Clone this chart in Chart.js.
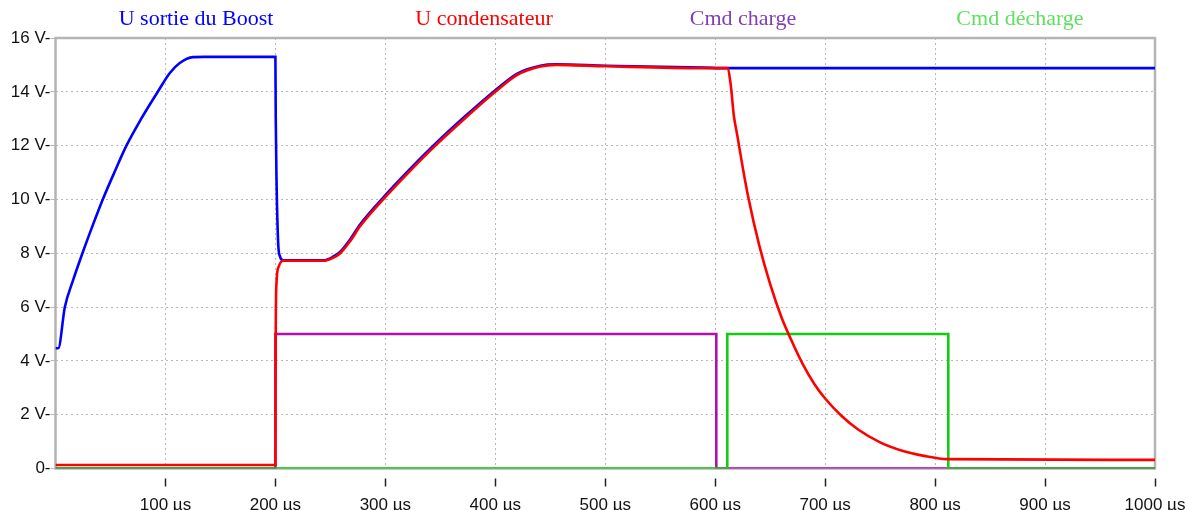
<!DOCTYPE html>
<html>
<head>
<meta charset="utf-8">
<script src="https://cdn.jsdelivr.net/npm/chart.js@4/dist/chart.umd.min.js"></script>
<style>
  body { margin: 0; background: #fff; }
  #wrap { position: relative; width: 1193px; height: 510px; }
  .ttl { position: absolute; top: 5px; font: 22px "Liberation Serif", serif; transform: translateX(-50%); white-space: nowrap; }
</style>
</head>
<body>
<div id="wrap">
  <canvas id="chart"></canvas>
  <span class="ttl" style="left:196px;color:#0000ff">U sortie du Boost</span>
  <span class="ttl" style="left:484px;color:#ff0000">U condensateur</span>
  <span class="ttl" style="left:743px;color:#7f3fb8">Cmd charge</span>
  <span class="ttl" style="left:1020px;color:#5fe05f">Cmd décharge</span>
</div>
<script>
// time in µs, values in V
var boostT = [0, 2.5, 8.5, 16, 24.5, 33.5, 43, 53.5, 64.5, 78, 93, 104, 113, 125, 135, 200, 200.3, 201, 202.5, 204, 207,
  244, 252, 259, 268, 277, 298, 321, 345.5, 372, 400, 420, 441, 455, 500, 589, 611, 1000];
var boostV = [4.47, 4.47, 6.0, 7.0, 8.0, 9.0, 10.0, 11.0, 12.0, 13.0, 14.0, 14.7, 15.07, 15.29, 15.3, 15.3, 13.1, 10.8, 8.4, 7.9, 7.74,
  7.74, 7.86, 8.06, 8.52, 9.07, 10.07, 11.07, 12.07, 13.07, 14.06, 14.68, 14.97, 15.02, 14.97, 14.9, 14.88, 14.88];

var condT = [0, 200, 200.3, 201, 203, 207, 244, 252, 259, 268, 277, 298, 321, 345.5, 372, 400, 420, 441, 455, 500, 589, 611,
  614, 617, 620, 625, 630, 640, 650, 660, 670, 680, 690, 700, 715, 730, 750, 770, 790, 811, 1000];
var condV = [0.13, 0.13, 5.0, 6.9, 7.5, 7.72, 7.72, 7.82, 8.0, 8.45, 9.0, 10.0, 11.0, 12.0, 13.0, 14.0, 14.63, 14.94, 15.0, 14.95, 14.88, 14.88,
  14.3, 13.1, 12.4, 11.2, 10.1, 8.3, 6.85, 5.65, 4.7, 3.85, 3.15, 2.6, 1.95, 1.45, 0.97, 0.66, 0.47, 0.35, 0.32];

var chargeT = [0, 200, 200, 601, 601, 1000];
var chargeV = [0, 0, 5, 5, 0, 0];

var dechargeT = [0, 611, 611, 812, 812, 1000];
var dechargeV = [0, 0, 5, 5, 0, 0];

function pts(t, v) {
  return t.map(function (x, i) { return { x: x, y: v[i] }; });
}

// grey box round the plot + small tick marks below the time axis
var frame = {
  id: 'frame',
  beforeDatasetsDraw: function (chart) {
    var a = chart.chartArea, ctx = chart.ctx;
    ctx.save();
    ctx.strokeStyle = '#b4b4b4';
    ctx.lineWidth = 2.5;
    ctx.strokeRect(a.left, a.top, a.right - a.left, a.bottom - a.top);
    var xs = chart.scales.x;
    ctx.strokeStyle = '#222';
    ctx.lineWidth = 1.5;
    xs.ticks.forEach(function (t) {
      if (t.value === 0) return;
      var px = Math.round(xs.getPixelForValue(t.value)) + 0.5;
      ctx.beginPath();
      ctx.moveTo(px, a.bottom + 10);
      ctx.lineTo(px, a.bottom + 18);
      ctx.stroke();
    });
    ctx.restore();
  }
};

new Chart(document.getElementById('chart'), {
  type: 'line',
  data: {
    datasets: [
      { label: 'U condensateur', data: pts(condT, condV), borderColor: '#ff0000', borderWidth: 2.6, cubicInterpolationMode: 'monotone' },
      { label: 'U sortie du Boost', data: pts(boostT, boostV), borderColor: '#0000ff', borderWidth: 2.6, cubicInterpolationMode: 'monotone' },
      { label: 'Cmd décharge', data: pts(dechargeT, dechargeV), borderColor: '#11cc11', borderWidth: 2.6, tension: 0 },
      { label: 'Cmd charge', data: pts(chargeT, chargeV), borderColor: '#b010b0', borderWidth: 2.6, tension: 0 }
    ]
  },
  options: {
    responsive: true,
    maintainAspectRatio: false,
    animation: false,
    elements: { point: { radius: 0 } },
    layout: { padding: { top: 38, right: 38, left: 0, bottom: 0 } },
    plugins: { legend: { display: false }, tooltip: { enabled: false } },
    scales: {
      x: {
        type: 'linear', min: 0, max: 1000,
        afterFit: function (s) { s.height = 41.5; s.paddingLeft = 0; s.paddingRight = 0; },
        ticks: {
          stepSize: 100, maxRotation: 0, padding: 27, color: '#111',
          font: { family: 'Liberation Sans', size: 17 },
          callback: function (v) { return v === 0 ? '' : v + ' µs'; }
        },
        grid: { color: '#b8b8b8', lineWidth: 1, drawTicks: false },
        border: { display: false, dash: [2, 3] }
      },
      y: {
        min: 0, max: 16,
        afterFit: function (s) { s.width = 55.5; s.paddingTop = 0; s.paddingBottom = 0; },
        ticks: {
          stepSize: 2, padding: 0, color: '#111',
          font: { family: 'Liberation Sans', size: 17 },
          callback: function (v) { return v === 0 ? '0-' : v + ' V-'; }
        },
        grid: { color: '#b8b8b8', lineWidth: 1, tickLength: 5, tickColor: '#b8b8b8', tickBorderDash: [] },
        border: { display: false, dash: [2, 3] }
      }
    }
  },
  plugins: [frame]
});
</script>
</body>
</html>
